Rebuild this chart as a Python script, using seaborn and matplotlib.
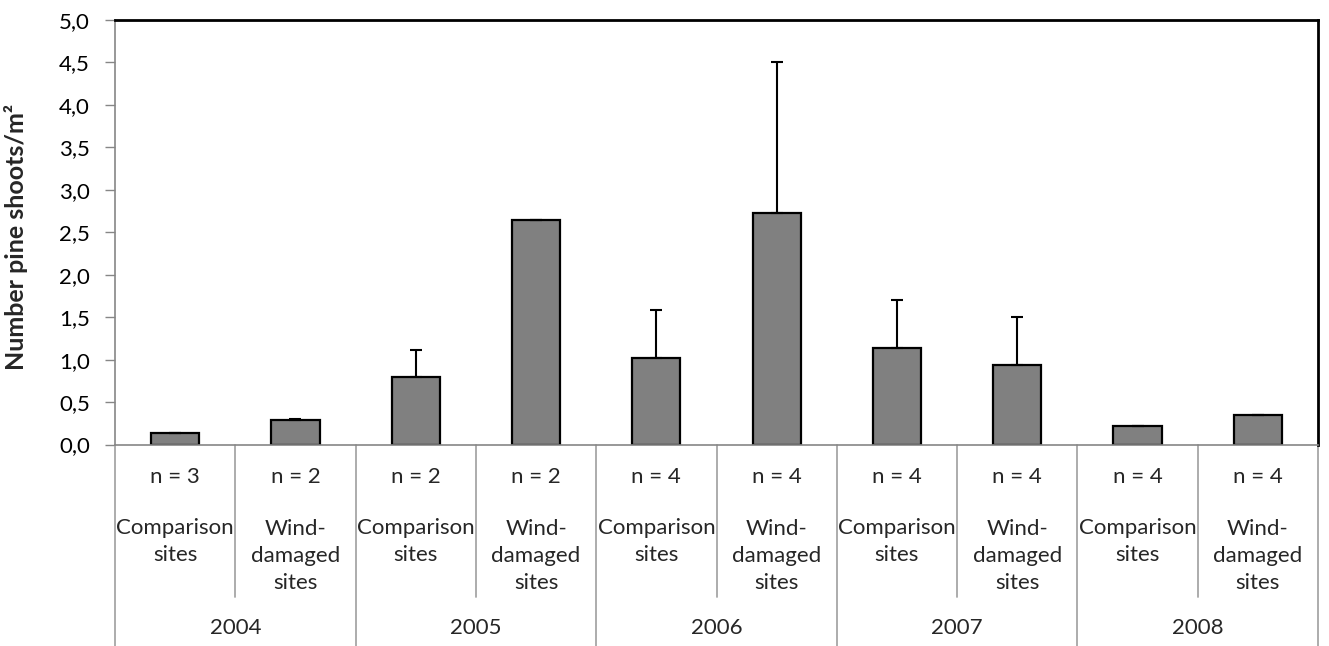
import matplotlib
matplotlib.use("Agg")
import matplotlib.pyplot as plt
import seaborn as sns
import pandas as pd
from matplotlib.transforms import blended_transform_factory
from matplotlib.lines import Line2D

# ---------------- data ----------------
years = ["2004", "2005", "2006", "2007", "2008"]
site_types = ["Comparison\nsites", "Wind-\ndamaged\nsites"]
n_labels = ["n = 3", "n = 2", "n = 2", "n = 2", "n = 4",
            "n = 4", "n = 4", "n = 4", "n = 4", "n = 4"]
means = [0.13, 0.29, 0.80, 2.64, 1.02, 2.73, 1.14, 0.94, 0.22, 0.35]
upper = [0.14, 0.30, 1.11, 2.64, 1.59, 4.51, 1.70, 1.50, 0.22, 0.35]
y_ticks = [0.0, 0.5, 1.0, 1.5, 2.0, 2.5, 3.0, 3.5, 4.0, 4.5, 5.0]
y_label = "Number pine shoots/m²"

# ---------------- build table ----------------
rows = []
for i, yr in enumerate(years):
    for j, st in enumerate(site_types):
        k = i * 2 + j
        rows.append({"key": f"{yr} {st}", "year": yr, "site": st,
                     "n": n_labels[k], "mean": means[k], "upper": upper[k]})
df = pd.DataFrame(rows)

sns.set_theme(style="white")
plt.rcParams["font.family"] = ["Lato", "DejaVu Sans"]

FS = 16

fig = plt.figure(figsize=(13.29, 6.46), dpi=100)
ax = fig.add_axes([115 / 1329, 1 - 444.5 / 646, (1318 - 115) / 1329, (444.5 - 20) / 646])

sns.barplot(data=df, x="key", y="mean", order=list(df["key"]), color="#808080",
            saturation=1, edgecolor="black", linewidth=1.6, width=0.4, ax=ax,
            errorbar=None)

xpos = list(range(len(df)))
err_up = [u - m for u, m in zip(df["upper"], df["mean"])]
ax.errorbar(xpos, df["mean"], yerr=[[0] * len(df), err_up], fmt="none",
            ecolor="black", elinewidth=1.5, capsize=4.3, capthick=1.5, zorder=5)

ax.set_xlim(-0.5, len(df) - 0.5)
ax.set_ylim(0, 5)
ax.set_yticks(y_ticks)
ax.set_yticklabels([f"{t:.1f}".replace(".", ",") for t in y_ticks], fontsize=FS, color="black")
ax.set_xticks([])
ax.set_xlabel("")
ax.set_ylabel(y_label, fontsize=18, fontweight="bold")
ax.yaxis.set_label_coords(-0.0723, 0.49)
ax.tick_params(axis="y", which="major", direction="out", length=7, width=1,
               color="#868686", pad=11, left=True)

for s in ["top", "right"]:
    ax.spines[s].set_color("black")
    ax.spines[s].set_linewidth(2)
for s in ["left", "bottom"]:
    ax.spines[s].set_color("#868686")
    ax.spines[s].set_linewidth(1.2)

# ---------------- category table under the axis ----------------
trans = blended_transform_factory(ax.transData, ax.transAxes)
sep_col = "#a6a6a6"
for b in range(len(df) + 1):
    x = b - 0.5
    y_end = -0.48 if b % 2 == 0 else -0.359
    ax.add_line(Line2D([x, x], [0, y_end], transform=trans, color=sep_col,
                       lw=1.3, clip_on=False))

for k, row in df.iterrows():
    ax.text(k, -0.077, row["n"], transform=trans, ha="center", va="center", fontsize=FS)
    nlines = row["site"].count("\n") + 1
    yc = -0.2285 if nlines == 2 else -0.263
    ax.text(k, yc, row["site"], transform=trans, ha="center", va="center",
            fontsize=FS, linespacing=1.45)

for i, yr in enumerate(years):
    ax.text(i * 2 + 0.5, -0.432, yr, transform=trans, ha="center", va="center", fontsize=FS)

fig.savefig("out.png", dpi=100)
